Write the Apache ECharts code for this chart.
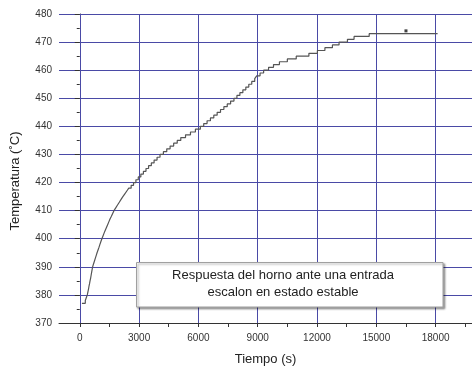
<!DOCTYPE html>
<html>
<head>
<meta charset="utf-8">
<script src="https://cdn.jsdelivr.net/npm/echarts@6/dist/echarts.min.js"></script>
<style>
html,body{margin:0;padding:0;background:#fff;}
#chart{width:472px;height:372px;}
</style>
</head>
<body>
<div id="chart"></div>
<script>
// Time (s) at which each temperature step (°C) is reached
var timeS = [110, 280, 330, 380, 410, 440, 465, 495, 520, 550, 575, 600, 625, 650,
  695, 740, 785, 830, 875, 925, 975, 1020, 1070, 1120,
  1175, 1230, 1290, 1350, 1410, 1470, 1530, 1600, 1665, 1730,
  1820, 1910, 2000, 2090, 2180, 2280, 2380, 2480, 2600, 2720,
  2840, 2960, 3090, 3220, 3350, 3480, 3620, 3760, 3910, 4060,
  4230, 4400, 4570, 4750, 4930, 5110, 5350, 5600, 5850, 6100,
  6270, 6440, 6610, 6780, 6950, 7120, 7290, 7460, 7630, 7800,
  7950, 8100, 8250, 8400, 8550, 8700, 8850, 8950, 9120, 9300,
  9550, 9800, 10100, 10500, 10950, 11590, 12020, 12400, 12780, 13115,
  13540, 13875, 14640, 18100];
var tempC = [377, 378, 379, 380, 381, 382, 383, 384, 385, 386, 387, 388, 389, 390,
  391, 392, 393, 394, 395, 396, 397, 398, 399, 400,
  401, 402, 403, 404, 405, 406, 407, 408, 409, 410,
  411, 412, 413, 414, 415, 416, 417, 418, 419, 420,
  421, 422, 423, 424, 425, 426, 427, 428, 429, 430,
  431, 432, 433, 434, 435, 436, 437, 438, 439, 440,
  441, 442, 443, 444, 445, 446, 447, 448, 449, 450,
  451, 452, 453, 454, 455, 456, 457, 458, 459, 460,
  461, 462, 463, 464, 465, 466, 467, 468, 469, 470,
  471, 472, 473, 473];
var markerPoint = [[16500, 474]];
var xLabelValues = [0, 3000, 6000, 9000, 12000, 15000, 18000];
var xTickValues = [0, 1500, 3000, 4500, 6000, 7500, 9000, 10500, 12000, 13500, 15000, 16500, 18000, 19500];
var xGridValues = [0, 3000, 6000, 9000, 12000, 15000, 18000];
var xRange = [-1050, 19840];
var yRange = [370, 480];
var yStep = 10;
var xTitle = 'Tiempo (s)';
var yTitle = 'Temperatura (˚C)';
var noteLines = ['Respuesta del horno ante una entrada', 'escalon en estado estable'];

var gridColor = '#4a4aa6';
var font = 'Liberation Sans, Arial, sans-serif';

var chart = echarts.init(document.getElementById('chart'), null, {renderer: 'canvas'});
var data = timeS.map(function (t, i) { return [t, tempC[i]]; });

chart.setOption({
  animation: false,
  backgroundColor: '#ffffff',
  grid: {left: 59, right: 0, top: 14, bottom: 49, containLabel: false},
  xAxis: {
    type: 'value',
    min: xRange[0], max: xRange[1],
    name: xTitle, nameLocation: 'middle', nameGap: 30,
    nameTextStyle: {fontFamily: font, fontSize: 13, color: '#222'},
    axisLine: {show: true, onZero: false, lineStyle: {color: '#333', width: 1}},
    axisTick: {show: true, inside: false, length: 4, customValues: xTickValues, lineStyle: {color: '#333'}},
    axisLabel: {customValues: xLabelValues, margin: 10, fontFamily: font, fontSize: 10, color: '#333',
      formatter: function (v) { return String(v); }},
    splitLine: {show: false}
  },
  yAxis: {
    type: 'value',
    min: yRange[0], max: yRange[1], interval: yStep,
    axisLine: {show: true, lineStyle: {color: '#333', width: 1}},
    axisTick: {show: true, inside: false, length: 5, lineStyle: {color: '#333'}},
    minorTick: {show: true, splitNumber: 2, length: 3, lineStyle: {color: '#333'}},
    axisLabel: {margin: 7, fontFamily: font, fontSize: 10, color: '#333'},
    splitLine: {show: true, lineStyle: {color: gridColor, width: 1}}
  },
  graphic: [
    {
      type: 'text', x: 15, y: 181,
      rotation: Math.PI / 2,
      style: {text: yTitle, font: '13px ' + font, fill: '#222', textAlign: 'center', textVerticalAlign: 'middle'},
      z: 100
    },
    {
      type: 'rect',
      shape: {x: 136.5, y: 262.5, width: 306.5, height: 44.5},
      style: {fill: '#fff', stroke: '#a0a0a0', lineWidth: 1, shadowBlur: 2, shadowOffsetX: 1.5, shadowOffsetY: 1.5, shadowColor: 'rgba(0,0,0,0.35)'},
      z: 100
    },
    {
      type: 'text', x: 283, y: 275,
      style: {text: noteLines[0], font: '13px ' + font, fill: '#222', textAlign: 'center', textVerticalAlign: 'middle'},
      z: 101
    },
    {
      type: 'text', x: 283, y: 292.5,
      style: {text: noteLines[1], font: '13px ' + font, fill: '#222', textAlign: 'center', textVerticalAlign: 'middle'},
      z: 101
    }
  ],
  series: [
    {
      type: 'line', data: [], z: 1, silent: true,
      markLine: {
        silent: true, symbol: 'none', animation: false,
        label: {show: false},
        lineStyle: {color: gridColor, width: 1, type: 'solid'},
        data: xGridValues.map(function (v) { return {xAxis: v}; })
      }
    },
    {
      type: 'line', data: data, step: 'end', z: 5,
      showSymbol: false, symbol: 'none',
      lineStyle: {color: '#555', width: 1.2}
    },
    {
      type: 'scatter', data: markerPoint, z: 6,
      symbol: 'rect', symbolSize: 3,
      itemStyle: {color: '#111'}
    }
  ]
});
</script>
</body>
</html>
